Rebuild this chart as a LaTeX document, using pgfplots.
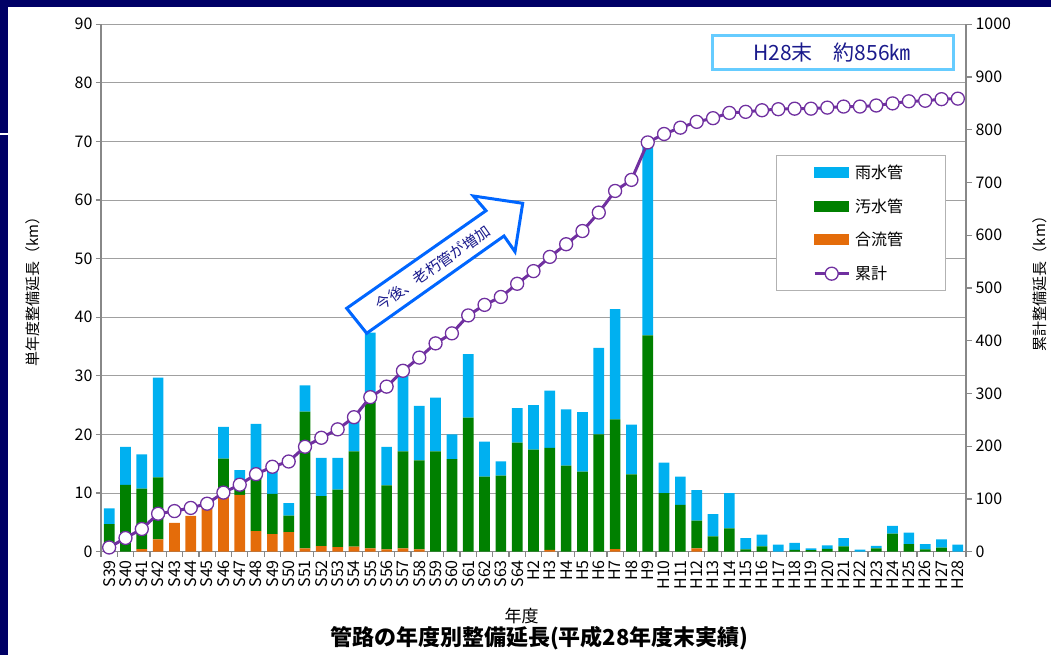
\documentclass[border=0pt]{standalone}
\usepackage{pgfplots}
\usepackage{pgfplotstable}
\pgfplotsset{compat=1.18}
\usepackage{fontspec}
\setmainfont{Noto Sans CJK JP}
\newcommand\fs[1]{\fontsize{#1}{#1}\selectfont}

\definecolor{navy}{RGB}{0,0,102}
\definecolor{cblue}{RGB}{0,176,240}
\definecolor{cgreen}{RGB}{0,128,0}
\definecolor{corange}{RGB}{228,108,10}
\definecolor{cpurple}{RGB}{112,48,160}
\definecolor{arrowblue}{RGB}{0,102,255}
\definecolor{boxblue}{RGB}{102,204,255}
\definecolor{textnavy}{RGB}{26,26,140}
\definecolor{gridgray}{RGB}{160,160,160}
\definecolor{axgray}{RGB}{136,136,136}

\pgfplotsset{
  patchlegend/.style={legend image code/.code={\fill[#1] (0pt,-5pt) rectangle (34pt,5pt);}},
  linelegend/.style={legend image code/.code={\draw[mark repeat=2, mark phase=2, ##1] plot coordinates {(0pt,0pt) (17pt,0pt) (34pt,0pt)};}},
}

% x: 0=S39 ... 25=S64, 26=H2 ... 52=H28
% o = 合流管, g = 汚水管, b = 雨水管 (km), c = 累計 (km)
\pgfplotstableread{
x o g b c
0 0 4.7 2.7 8
1 0 11.4 6.5 26
2 0.46 10.29 5.85 43
3 2.1 10.6 17.0 72
4 4.9 0 0 77
5 6.1 0 0 83
6 7.5 0 0 91
7 9.3 6.6 5.4 112
8 9.7 1.3 2.9 127
9 3.5 9.0 9.3 147
10 3.0 6.85 3.95 161
11 3.36 2.79 2.15 171
12 0.55 23.35 4.5 199
13 0.97 8.53 6.5 216
14 0.8 9.8 5.4 232
15 0.85 16.25 5.0 255
16 0.57 25.03 11.8 293
17 0.4 10.9 6.6 313
18 0.57 16.53 12.9 343
19 0.4 15.2 9.3 368
20 0 17.1 9.2 395
21 0 15.8 4.2 414
22 0 22.9 10.8 448
23 0 12.8 6.0 468
24 0 13.0 2.4 483
25 0 18.6 5.9 508
26 0 17.4 7.6 532
27 0.3 17.4 9.8 559
28 0 14.7 9.6 583
29 0 13.65 10.15 608
30 0 20.0 14.8 643
31 0.45 22.15 18.8 684
32 0 13.2 8.5 705
33 0 36.9 32.7 776
34 0 10.0 5.2 792
35 0 8.0 4.8 804
36 0.57 4.73 5.2 815
37 0 2.6 3.8 822
38 0 4.0 6.0 832
39 0 0.4 1.9 834
40 0 0.9 2.0 837
41 0 0 1.2 839
42 0 0.3 1.2 840
43 0 0.25 0.32 840
44 0 0.5 0.6 842
45 0 0.9 1.4 844
46 0 0 0.35 844
47 0 0.57 0.43 846
48 0 3.1 1.3 850
49 0 1.3 1.95 854
50 0 0.4 0.9 855
51 0 0.7 1.4 858
52 0 0 1.2 859
}\data

\begin{document}
\begin{tikzpicture}[x=1pt,y=1pt]
\useasboundingbox (0,0) rectangle (1051,655);
% slide frame
\fill[navy] (0,647.5) rectangle (1051,655);
\fill[navy] (0,0) rectangle (7.7,655);
\fill[white] (0,520) rectangle (7.7,522);

\begin{axis}[
    at={(101pt,103.3pt)}, anchor=south west,
    width=865pt, height=527.4pt, scale only axis,
    xmin=-0.5, xmax=52.5, ymin=0, ymax=90,
    ybar stacked, bar width=10.7pt,
    axis x line*=bottom, axis y line*=left,
    axis line style={axgray, line width=1.3pt, -},
    tick align=outside,
    major tick length=5pt, minor tick length=5pt,
    tick style={axgray, line width=1.2pt},
    xtick={0,...,52},
    xticklabels={S39,S40,S41,S42,S43,S44,S45,S46,S47,S48,S49,S50,S51,S52,S53,S54,S55,S56,S57,S58,S59,S60,S61,S62,S63,S64,H2,H3,H4,H5,H6,H7,H8,H9,H10,H11,H12,H13,H14,H15,H16,H17,H18,H19,H20,H21,H22,H23,H24,H25,H26,H27,H28},
    major x tick style={draw=none},
    minor xtick={-0.5,0.5,...,52.5},
    x tick label style={rotate=90, anchor=east, font=\fs{16}},
    ytick={0,10,...,90},
    y tick label style={font=\fs{16}},
    /pgf/number format/assume math mode=true,
    ymajorgrids, grid style={gridgray, line width=1pt},
]
\addplot[fill=corange, draw=none] table[x=x, y=o] {\data};
\addplot[fill=cgreen, draw=none] table[x=x, y=g] {\data};
\addplot[fill=cblue, draw=none] table[x=x, y=b] {\data};
\end{axis}

\begin{axis}[
    at={(101pt,103.3pt)}, anchor=south west,
    width=865pt, height=527.4pt, scale only axis,
    xmin=-0.5, xmax=52.5, ymin=0, ymax=1000,
    axis x line=none, axis y line*=right,
    axis line style={axgray, line width=1.3pt, -},
    tick align=outside, major tick length=6pt,
    tick style={axgray, line width=1.2pt},
    ytick={0,100,...,1000},
    y tick label style={font=\fs{16}},
    /pgf/number format/assume math mode=true,
    /pgf/number format/1000 sep={},
    legend style={at={(0.78,0.752)}, anchor=north west,
        draw=gray!60, line width=1pt, fill=white,
        inner xsep=37pt, inner ysep=10pt,
        font=\fs{16}, row sep=19.7pt,
        nodes={inner sep=0pt, text height=13pt, text depth=1pt, text width=53pt, align=left},
        /tikz/every odd column/.append style={column sep=5pt}},
    legend cell align=left,
]
\addlegendimage{patchlegend=cblue}
\addlegendentry{雨水管}
\addlegendimage{patchlegend=cgreen}
\addlegendentry{汚水管}
\addlegendimage{patchlegend=corange}
\addlegendentry{合流管}
\addplot[cpurple, line width=3pt, mark=*, mark size=6.5pt,
    mark options={fill=white, draw=cpurple, line width=1.3pt}, linelegend]
    table[x=x, y=c] {\data};
\addlegendentry{累計}
\end{axis}

% annotation arrow
\draw[arrowblue, line width=3pt, fill=white, line join=miter]
  (346.7,346.7) -- (486,444.3) -- (473.3,459) -- (522.7,451.7)
  -- (515,403.3) -- (504,419) -- (366.7,321.7) -- cycle;
\node[rotate=35, text=textnavy, font=\fs{15}, inner sep=0pt] at (433,387) {今後、老朽管が増加};

% total box
\draw[boxblue, line width=3pt, fill=white] (712,585) rectangle (953.3,619.3);
\node[text=textnavy, font=\fs{21}, inner sep=0pt] at (832,602) {H28末　約856㎞};

% axis titles
\node[rotate=90, font=\fs{15}, inner sep=0pt] at (32.5,367) {単年度整備延長（km）};
\node[rotate=90, font=\fs{15}, inner sep=0pt] at (1040,375) {累計整備延長（km）};
\node[font=\fs{17}, inner sep=0pt] at (521.7,39) {年度};
\node[font=\bfseries\fs{22}, inner sep=0pt] at (539.2,17) {管路の年度別整備延長(平成28年度末実績)};
\end{tikzpicture}
\end{document}
